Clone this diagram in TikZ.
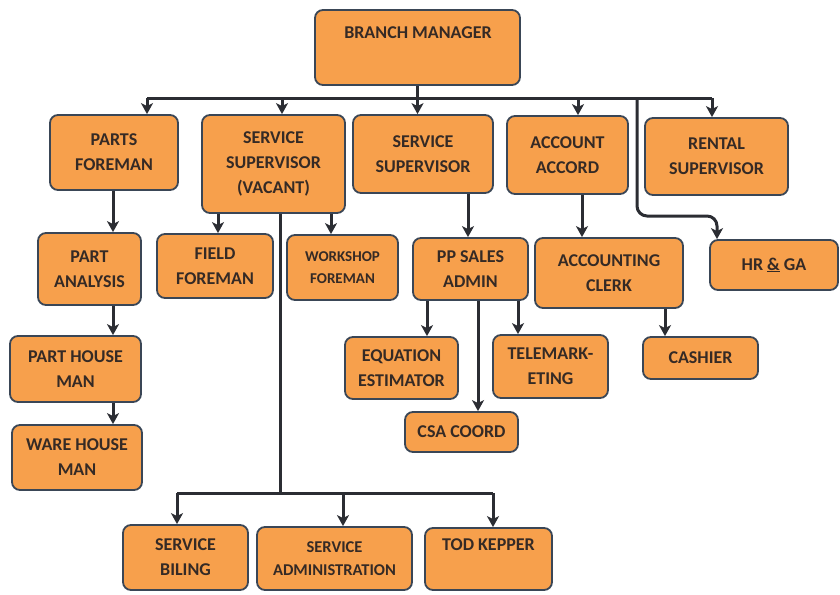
\documentclass[tikz,border=0pt]{standalone}
\usepackage{fontspec}
\setmainfont{Carlito}
\usetikzlibrary{arrows.meta}
\definecolor{boxfill}{HTML}{F7A04C}
\definecolor{boxline}{HTML}{3A4656}
\definecolor{conncol}{HTML}{2B2D33}
\definecolor{txtcol}{HTML}{352A25}
\tikzset{
  orgbox/.style={draw=boxline, fill=boxfill, line width=1.8pt, rounded corners=8pt, inner sep=0pt,
    font=\bfseries\fontsize{18}{25}\selectfont, text=txtcol, align=center},
  orgtxt/.style={font=\bfseries\fontsize{18}{25}\selectfont, text=txtcol, align=center, inner sep=0pt},
  conn/.style={draw=conncol, line width=3pt},
  arr/.style={conn, -{Stealth[length=11pt,width=12pt,inset=3pt]}}
}
\begin{document}
\begin{tikzpicture}[x=1pt,y=-1pt]
\useasboundingbox (0,0) rectangle (840,594);
\fill[white] (0,0) rectangle (840,594);
% boxes
\node[orgbox, minimum width=205pt, minimum height=75pt] (bm) at (417.5,47.5) {};
\node[orgtxt] (bmt) at (418,33) {BRANCH MANAGER};
\node[orgbox, minimum width=128pt, minimum height=75pt] (pf) at (114,152.5) {PARTS\\FOREMAN};
\node[orgbox, minimum width=143pt, minimum height=98pt] (ssv) at (273.5,164) {SERVICE\\SUPERVISOR\\(VACANT)};
\node[orgbox, minimum width=140pt, minimum height=78pt] (ss) at (423,154) {SERVICE\\SUPERVISOR};
\node[orgbox, minimum width=121pt, minimum height=78pt] (aa) at (567.5,155) {ACCOUNT\\ACCORD};
\node[orgbox, minimum width=143pt, minimum height=77pt] (rs) at (716.5,156.5) {RENTAL\\SUPERVISOR};
\node[orgbox, minimum width=103pt, minimum height=72pt] (pa) at (89.5,269) {PART\\ANALYSIS};
\node[orgbox, minimum width=116pt, minimum height=64pt] (ff) at (215,266) {FIELD\\FOREMAN};
\node[orgbox, minimum width=111pt, minimum height=65pt, font=\bfseries\fontsize{15}{22}\selectfont] (wf) at (342.5,267.5) {WORKSHOP\\FOREMAN};
\node[orgbox, minimum width=115pt, minimum height=62pt] (pp) at (470.5,269) {PP SALES\\ADMIN};
\node[orgbox, minimum width=148pt, minimum height=70pt] (acl) at (609,273) {ACCOUNTING\\CLERK};
\node[orgbox, minimum width=128pt, minimum height=50pt] (hr) at (774,265) {HR \underline{\&} GA};
\node[orgbox, minimum width=131pt, minimum height=66pt] (phm) at (75.5,369) {PART HOUSE\\MAN};
\node[orgbox, minimum width=130pt, minimum height=65pt] (whm) at (77,457.5) {WARE HOUSE\\MAN};
\node[orgbox, minimum width=113pt, minimum height=62pt] (eq) at (401.5,368) {EQUATION\\ESTIMATOR};
\node[orgbox, minimum width=115pt, minimum height=63pt] (tm) at (550.5,366.5) {TELEMARK-\\ETING};
\node[orgbox, minimum width=113pt, minimum height=40pt] (csa) at (461.5,432) {CSA COORD};
\node[orgbox, minimum width=115pt, minimum height=42pt] (ca) at (700.5,358) {CASHIER};
\node[orgbox, minimum width=125pt, minimum height=65pt] (sb) at (185.5,557.5) {SERVICE\\BILING};
\node[orgbox, minimum width=155pt, minimum height=63pt, font=\bfseries\fontsize{16.5}{23}\selectfont] (sa) at (334.5,558.5) {SERVICE\\ADMINISTRATION};
\node[orgbox, minimum width=127pt, minimum height=62pt] (tk) at (488.5,559) {};
\node[orgtxt] (tkt) at (488.5,545) {TOD KEPPER};
% top bus
\coordinate (t1) at (147,98);
\coordinate (t2) at (282,98);
\coordinate (t4) at (578,98);
\coordinate (t5) at (712,98);
\coordinate (t6) at (637,98);
\coordinate (h1) at (717,216);
\draw[conn] (t1) -- (t5);
\draw[arr] (bm.south) -- (bm.south |- ss.north);
\draw[arr] (t1) -- (t1 |- pf.north);
\draw[arr] (t2) -- (t2 |- ssv.north);
\draw[arr] (t4) -- (t4 |- aa.north);
\draw[arr] (t5) -- (t5 |- rs.north);
\draw[arr, rounded corners=10pt] (t6) |- (h1) -- (h1 |- hr.north);
% parts chain
\coordinate (p1) at (113,0);
\draw[arr] (p1 |- pf.south) -- (p1 |- pa.north);
\draw[arr] (p1 |- pa.south) -- (p1 |- phm.north);
\draw[arr] (p1 |- phm.south) -- (p1 |- whm.north);
% service supervisor vacant
\coordinate (s1) at (218,0);
\coordinate (s2) at (331,0);
\coordinate (s3) at (280,493);
\draw[arr] (s1 |- ssv.south) -- (s1 |- ff.north);
\draw[arr] (s2 |- ssv.south) -- (s2 |- wf.north);
\draw[conn] (s3 |- ssv.south) -- (s3);
\coordinate (bb1) at (177,493);
\coordinate (bb2) at (343,493);
\coordinate (bb3) at (493,493);
\draw[conn] (bb1) -- (bb3);
\draw[arr] (bb1) -- (bb1 |- sb.north);
\draw[arr] (bb2) -- (bb2 |- sa.north);
\draw[arr] (bb3) -- (bb3 |- tk.north);
% service supervisor
\coordinate (q1) at (468,0);
\draw[arr] (q1 |- ss.south) -- (q1 |- pp.north);
\coordinate (q2) at (427,0);
\coordinate (q3) at (478,0);
\coordinate (q4) at (518,0);
\draw[arr] (q2 |- pp.south) -- (q2 |- eq.north);
\draw[arr] (q3 |- pp.south) -- (q3 |- csa.north);
\draw[arr] (q4 |- pp.south) -- (q4 |- tm.north);
% accounts
\coordinate (a1) at (582,0);
\coordinate (a2) at (665,0);
\draw[arr] (a1 |- aa.south) -- (a1 |- acl.north);
\draw[arr] (a2 |- acl.south) -- (a2 |- ca.north);
\end{tikzpicture}
\end{document}
